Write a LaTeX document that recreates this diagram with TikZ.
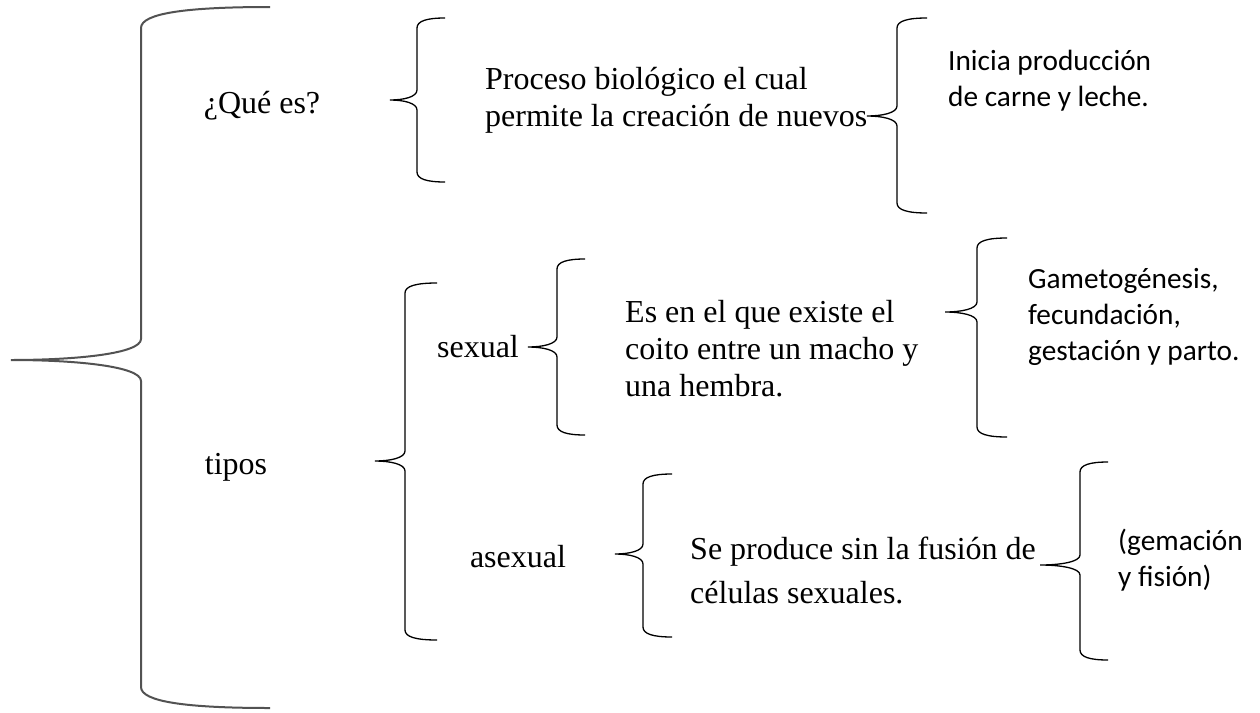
\documentclass[tikz,border=0pt]{standalone}
\usepackage{fontspec}
\setmainfont{Liberation Serif}
\newfontfamily\calibri{Carlito}

\tikzset{
  llave/.style={black, line width=1.3pt},
  llavegrande/.style={black!68, line width=2pt},
  tnr/.style={font=\fontsize{32}{37}\selectfont, inner sep=0pt, align=left},
  cal/.style={font=\calibri\fontsize{29.3}{36}\selectfont, inner sep=0pt, align=left},
}

% brace: [style]{tip x}{tip y}{line x}{end x}{top y}{bottom y}{bend}
\newcommand{\llave}[8][llave]{%
  \draw[#1] (#5,#6) .. controls ({#4+0.35*(#5-#4)},#6) and (#4,{#6+0.3*#8}) .. (#4,{#6+#8})
    -- (#4,{#3-#8}) .. controls (#4,{#3-0.3*#8}) and ({#2+0.5*(#4-#2)},#3) .. (#2,#3)
    .. controls ({#2+0.5*(#4-#2)},#3) and (#4,{#3+0.3*#8}) .. (#4,{#3+#8})
    -- (#4,{#7-#8}) .. controls (#4,{#7-0.3*#8}) and ({#4+0.35*(#5-#4)},#7) .. (#5,#7);}

\begin{document}
\begin{tikzpicture}[x=1pt, y=-1pt]
    \useasboundingbox (0,0) rectangle (1260,712);
    % big brace
    \llave[llavegrande]{11}{360}{141}{270}{7}{708}{21}
    % first level
    \node[tnr] (que) at (262,106) {¿Qué es?};
    \node[tnr] (tipos) at (236,467) {tipos};
    \llave{390}{100}{417}{445}{18}{182}{10}
    \llave{375}{461}{405}{437}{283}{640}{10}
    % ¿que es?
    \node[tnr, anchor=west] (proceso) at (485,100) {Proceso biológico el cual\\permite la creación de nuevos};
    \llave{867}{116}{897}{927}{18}{213}{10}
    \node[cal, anchor=west] (inicia) at (948,81) {Inicia producción\\de carne y leche.};
    % sexual
    \node[tnr] (sexual) at (478,347) {sexual};
    \llave{528}{347}{557}{585}{259}{435}{10}
    \node[tnr, anchor=west] (essex) at (625,349) {Es en el que existe el\\coito entre un macho y\\una hembra.};
    \llave{945}{312}{977}{1007}{238}{437}{10}
    \node[cal, anchor=west] (gameto) at (1028,317) {Gametogénesis,\\fecundación,\\gestación y parto.};
    % asexual
    \node[tnr] (asexual) at (518,557) {asexual};
    \llave{615}{554}{643}{672}{474}{637}{10}
    \node[tnr, anchor=west, font=\fontsize{32}{44}\selectfont] (seprod) at (690,570) {Se produce sin la fusión de\\células sexuales.};
    \llave{1040}{565}{1080}{1108}{462}{660}{10}
    \node[cal, anchor=west] (gema) at (1118,560) {(gemación\\y fisión)};
\end{tikzpicture}
\end{document}
